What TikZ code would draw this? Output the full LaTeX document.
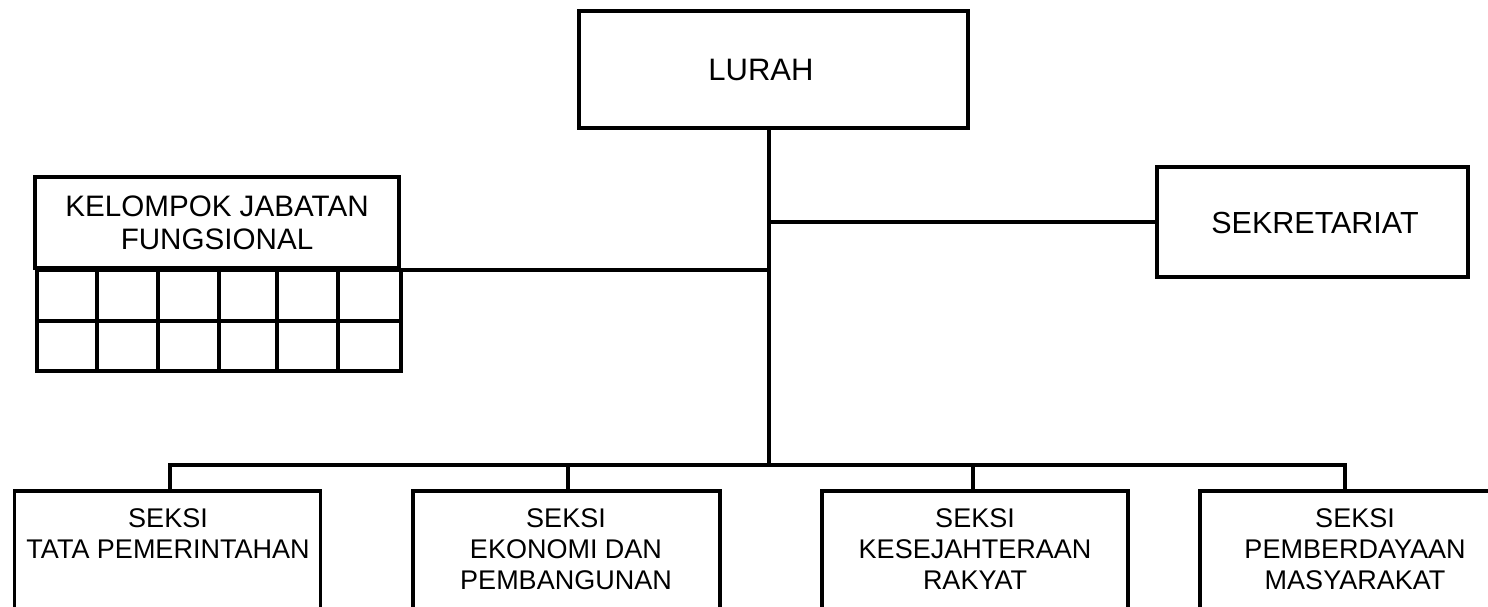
\documentclass[tikz,border=0pt]{standalone}
\usepackage{fontspec}
\setmainfont{Liberation Sans}
\begin{document}
\begin{tikzpicture}[x=1pt,y=-1pt,
  box/.style={draw=black,line width=3.6pt,rectangle,inner sep=0pt,fill=white},
  conn/.style={draw=black,line width=3.6pt},
  lbl/.style={inner sep=0pt,align=center,text=black},
  cell/.style={draw=black,line width=3.6pt,rectangle,inner sep=0pt,anchor=north west}]
\fill[white] (0,0) rectangle (1488,607);
\useasboundingbox (0,0) rectangle (1488,607);
\clip (0,0) rectangle (1488,607);
% spine coordinates
\coordinate (top) at (769,128);
\coordinate (spine) at (769,465);
\coordinate (d1) at (170,465);
\coordinate (d2) at (568,465);
\coordinate (d3) at (973,465);
\coordinate (d4) at (1345,465);
% connectors (drawn first)
\draw[conn] (top) -- (spine);
\draw[conn] (d1 |- 0,489) -- (d1) -- (d4) -- (d4 |- 0,489);
\draw[conn] (d2) -- (d2 |- 0,489);
\draw[conn] (d3) -- (d3 |- 0,489);
% boxes
\node[box,minimum width=389pt,minimum height=117pt] (lurah) at (773.5,69.5) {};
\node[lbl,font=\fontsize{31}{36}\selectfont] (lurahT) at (761,70) {LURAH};
\node[box,minimum width=311pt,minimum height=110pt] (sek) at (1312.5,222) {};
\node[lbl,font=\fontsize{30.5}{34}\selectfont] (sekT) at (1315,223) {SEKRETARIAT};
\node[box,minimum width=364pt,minimum height=91pt] (kjf) at (217,222.5) {};
\node[lbl,font=\fontsize{29.6}{33}\selectfont] (kjfT) at (217,223) {KELOMPOK JABATAN\\FUNGSIONAL};
% grid cells
\foreach \r/\ya/\yb in {1/268/319,2/319/369}{
  \foreach \c/\xa/\xb in {1/35/95,2/95/156,3/156/217,4/217/275,5/275/336,6/336/399}{
    \node[cell,minimum width={\xb-\xa},minimum height={\yb-\ya}] (c\r\c) at (\xa,\ya) {};
  }}
% connectors to side boxes
\draw[conn] (sek.west -| spine) -- (sek.west);
\draw[conn] (kjf.south east) -- (kjf.south east -| spine);
% bottom boxes
\node[box,anchor=north,minimum width=306pt,minimum height=150pt] (b1) at (167.5,489) {};
\node[box,anchor=north,minimum width=307pt,minimum height=150pt] (b2) at (566.5,489) {};
\node[box,anchor=north,minimum width=306pt,minimum height=150pt] (b3) at (975,489) {};
\node[box,anchor=north,minimum width=310pt,minimum height=150pt] (b4) at (1355,489) {};
\tikzset{btxt/.style={lbl,anchor=north,font=\fontsize{27}{31}\selectfont}}
\node[btxt] (t1) at (168,508) {SEKSI\\TATA PEMERINTAHAN};
\node[btxt] (t2) at (566,508) {SEKSI\\EKONOMI DAN\\PEMBANGUNAN};
\node[btxt] (t3) at (975,508) {SEKSI\\KESEJAHTERAAN\\RAKYAT};
\node[btxt] (t4) at (1355,508) {SEKSI\\PEMBERDAYAAN\\MASYARAKAT};
\end{tikzpicture}
\end{document}
